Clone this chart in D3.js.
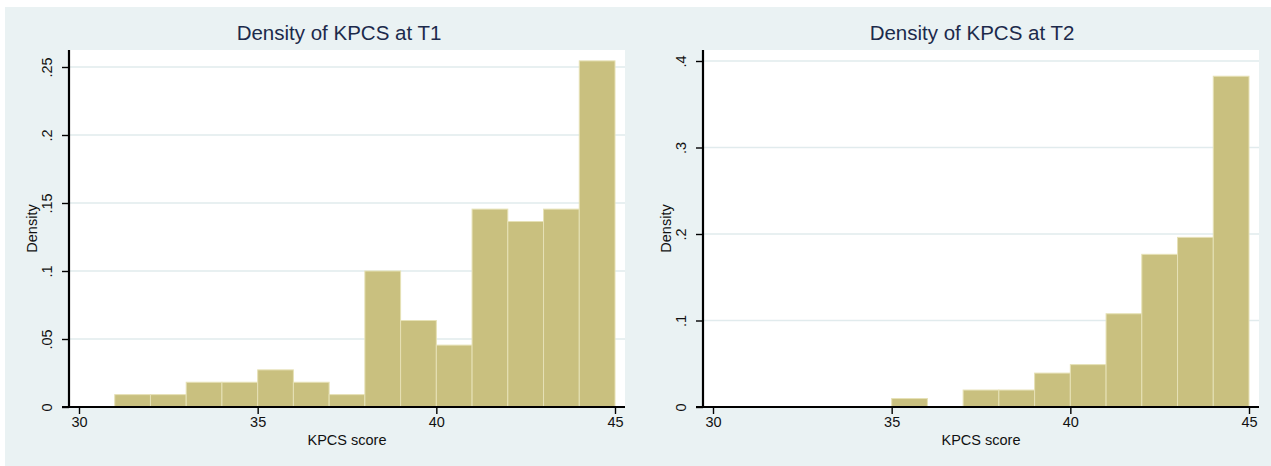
<!DOCTYPE html>
<html>
<head>
<meta charset="utf-8">
<script src="https://cdn.jsdelivr.net/npm/d3@7"></script>
<style>
  html, body { margin: 0; padding: 0; background: #ffffff; }
  svg { display: block; font-family: "Liberation Sans", Arial, sans-serif; }
</style>
</head>
<body>
<svg id="chart" width="1271" height="466"></svg>
<script>
// Histogram bins (left edges, width 1) and density heights for each time point
const binStartsT1 = [31, 32, 33, 34, 35, 36, 37, 38, 39, 40, 41, 42, 43, 44];
const densityT1   = [0.0091, 0.0091, 0.0182, 0.0182, 0.0273, 0.0182, 0.0091,
                     0.1000, 0.0636, 0.0455, 0.1455, 0.1364, 0.1455, 0.2545];

const binStartsT2 = [35, 36, 37, 38, 39, 40, 41, 42, 43, 44];
const densityT2   = [0.0098, 0, 0.0196, 0.0196, 0.0392, 0.0490,
                     0.1078, 0.1765, 0.1961, 0.3824];

const xTicks   = [30, 35, 40, 45];
const yTicksT1 = [0, 0.05, 0.1, 0.15, 0.2, 0.25];
const yTicksT2 = [0, 0.1, 0.2, 0.3, 0.4];

const titles = ["Density of KPCS at T1", "Density of KPCS at T2"];
const xLabel = "KPCS score";
const yLabel = "Density";

const svg = d3.select("#chart");

// graph region
svg.append("rect")
  .attr("x", 5).attr("y", 7)
  .attr("width", 1271 - 5).attr("height", 466 - 7)
  .attr("fill", "#eaf2f3");

// Stata-style tick label: drop the leading zero
const fmt = d => d === 0 ? "0" : String(d).replace(/^0/, "");

function drawPanel(cfg) {
  const g = svg.append("g");
  const x = d3.scaleLinear().domain([30, 45]).range([cfg.x30, cfg.x45]);
  const y = d3.scaleLinear().domain([0, cfg.yMax]).range([cfg.bottom, cfg.yTopTick]);

  // plot region
  g.append("rect")
    .attr("x", cfg.axisX).attr("y", cfg.top)
    .attr("width", cfg.right - cfg.axisX).attr("height", cfg.bottom - cfg.top)
    .attr("fill", "#ffffff");

  // grid lines
  g.append("g").selectAll("line")
    .data(cfg.yTicks.filter(d => d > 0))
    .join("line")
    .attr("x1", cfg.axisX).attr("x2", cfg.right)
    .attr("y1", d => y(d)).attr("y2", d => y(d))
    .attr("stroke", "#e1ebed").attr("stroke-width", 1.6);

  // bars
  g.append("g").selectAll("rect")
    .data(cfg.bins.map((b, i) => ({ b, v: cfg.values[i] })).filter(d => d.v > 0))
    .join("rect")
    .attr("x", d => x(d.b))
    .attr("width", d => x(d.b + 1) - x(d.b))
    .attr("y", d => y(d.v))
    .attr("height", d => y(0) - y(d.v))
    .attr("fill", "#c9c07f")
    .attr("stroke", "#e6e1b6")
    .attr("stroke-width", 1);

  // x axis
  const xAxis = g.append("g")
    .attr("transform", `translate(0,${cfg.bottom})`)
    .call(d3.axisBottom(x).tickValues(xTicks).tickSize(7).tickSizeOuter(0));
  xAxis.select(".domain").remove();
  xAxis.selectAll(".tick line").attr("stroke", "#000").attr("stroke-width", 1.4);
  xAxis.selectAll(".tick text")
    .attr("y", 20).attr("dy", 0)
    .attr("fill", "#111").attr("font-size", 14.5)
    .attr("font-family", "Liberation Sans, Arial, sans-serif");
  g.append("line")
    .attr("x1", cfg.axisX - 7).attr("x2", cfg.right)
    .attr("y1", cfg.bottom).attr("y2", cfg.bottom)
    .attr("stroke", "#000").attr("stroke-width", 2.2);

  // y axis
  const yAxis = g.append("g")
    .attr("transform", `translate(${cfg.axisX},0)`)
    .call(d3.axisLeft(y).tickValues(cfg.yTicks).tickFormat(fmt).tickSize(7).tickSizeOuter(0));
  yAxis.select(".domain").remove();
  yAxis.selectAll(".tick line").attr("stroke", "#000").attr("stroke-width", 1.4);
  yAxis.selectAll(".tick text")
    .attr("transform", "rotate(-90)")
    .attr("x", 0).attr("y", -17).attr("dy", 0)
    .attr("text-anchor", "middle")
    .attr("fill", "#111").attr("font-size", 14.5)
    .attr("font-family", "Liberation Sans, Arial, sans-serif");
  g.append("line")
    .attr("x1", cfg.axisX).attr("x2", cfg.axisX)
    .attr("y1", cfg.top).attr("y2", cfg.bottom + 1)
    .attr("stroke", "#000").attr("stroke-width", 2.2);

  // axis titles
  g.append("text")
    .attr("x", (cfg.axisX + cfg.right) / 2).attr("y", 445)
    .attr("text-anchor", "middle")
    .attr("font-size", 14.5).attr("fill", "#111")
    .text(xLabel);
  g.append("text")
    .attr("transform", `translate(${cfg.axisX - 32},${(cfg.top + cfg.bottom) / 2}) rotate(-90)`)
    .attr("text-anchor", "middle")
    .attr("font-size", 14.5).attr("fill", "#111")
    .text(yLabel);

  // panel title
  g.append("text")
    .attr("x", cfg.titleX).attr("y", 40)
    .attr("text-anchor", "middle")
    .attr("font-size", 20.5).attr("fill", "#1c2a4b")
    .text(cfg.title);
}

drawPanel({
  title: titles[0], titleX: 339,
  axisX: 69, right: 625, top: 50, bottom: 407,
  x30: 79, x45: 615,
  yMax: 0.25, yTopTick: 67,
  yTicks: yTicksT1, bins: binStartsT1, values: densityT1
});

drawPanel({
  title: titles[1], titleX: 972,
  axisX: 703, right: 1259, top: 50, bottom: 407,
  x30: 713, x45: 1249,
  yMax: 0.4, yTopTick: 61,
  yTicks: yTicksT2, bins: binStartsT2, values: densityT2
});
</script>
</body>
</html>
